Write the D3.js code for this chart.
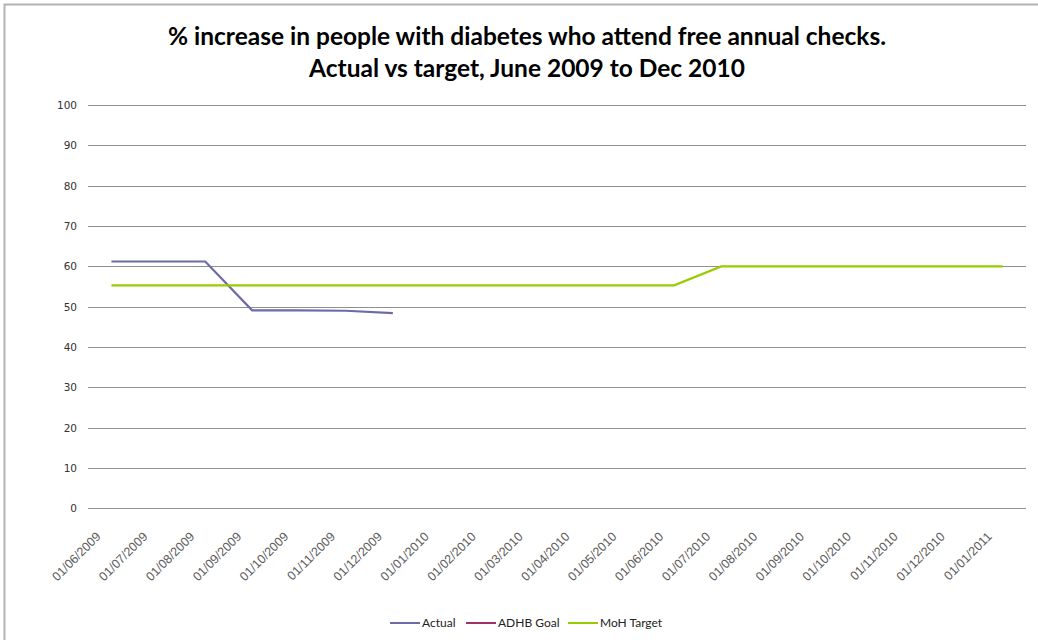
<!DOCTYPE html>
<html>
<head>
<meta charset="utf-8">
<script src="https://cdn.jsdelivr.net/npm/d3@7"></script>
<style>
  body { margin: 0; background: #fff; }
  svg { display: block; }
</style>
</head>
<body>
<svg id="chart" width="1038" height="640"></svg>
<script>
// chart data
var months = ["01/06/2009", "01/07/2009", "01/08/2009", "01/09/2009", "01/10/2009",
    "01/11/2009", "01/12/2009", "01/01/2010", "01/02/2010", "01/03/2010",
    "01/04/2010", "01/05/2010", "01/06/2010", "01/07/2010", "01/08/2010",
    "01/09/2010", "01/10/2010", "01/11/2010", "01/12/2010", "01/01/2011"];
var actual = [61.2, 61.2, 61.2, 49.1, 49.1, 49.0, 48.4];
var adhbGoal = [];
var mohTarget = [55.3, 55.3, 55.3, 55.3, 55.3, 55.3, 55.3, 55.3, 55.3, 55.3,
    55.3, 55.3, 55.3, 60, 60, 60, 60, 60, 60, 60];
var yTicks = [0, 10, 20, 30, 40, 50, 60, 70, 80, 90, 100];
var titleLines = ["% increase in people with diabetes who attend free annual checks.",
    "Actual vs target, June 2009 to Dec 2010"];
var seriesNames = ["Actual", "ADHB Goal", "MoH Target"];
var seriesColors = ["#6b6ba8", "#a03068", "#99cc00"];

var svg = d3.select("svg#chart");

// outer chart border
svg.append("rect")
    .attr("x", 4.5).attr("y", 4.5)
    .attr("width", 1040).attr("height", 640)
    .attr("fill", "none")
    .attr("stroke", "#b3b3b3")
    .attr("stroke-width", 2);

var margin = {top: 105, right: 12, bottom: 132, left: 88};
var plotW = 1026 - margin.left;
var plotH = 508.4 - margin.top;

var x = d3.scaleBand().domain(months).range([margin.left, margin.left + plotW]);
var y = d3.scaleLinear().domain([0, 100]).range([margin.top + plotH, margin.top]);

// y gridlines + labels
var yAxis = d3.axisLeft(y)
    .tickValues(yTicks)
    .tickSize(-plotW)
    .tickPadding(11);

var gy = svg.append("g")
    .attr("transform", "translate(" + margin.left + ",0)")
    .call(yAxis);
gy.select(".domain").remove();
gy.selectAll(".tick line")
    .attr("stroke", "#8f8f8f")
    .attr("shape-rendering", "crispEdges");
gy.selectAll(".tick text")
    .attr("fill", "#333")
    .style("font-family", "DejaVu Sans")
    .style("font-size", "10.5px");

// x labels, rotated like excel
var xAxis = d3.axisBottom(x).tickSize(0).tickPadding(0);
var gx = svg.append("g")
    .attr("transform", "translate(0," + (margin.top + plotH) + ")")
    .call(xAxis);
gx.select(".domain").remove();
gx.selectAll(".tick text")
    .attr("fill", "#5a5a5a")
    .style("font-family", "Liberation Sans")
    .style("font-size", "12.5px")
    .attr("text-anchor", "end")
    .attr("y", 0).attr("dy", 0)
    .attr("transform", "translate(-10,29) rotate(-45)");

var line = d3.line()
    .x(function(d, i) { return x(months[i]) + x.bandwidth() / 2; })
    .y(function(d) { return y(d); });

var allSeries = [actual, adhbGoal, mohTarget];
allSeries.forEach(function(s, i) {
    if (s.length == 0) return;
    svg.append("path")
        .datum(s)
        .attr("d", line)
        .attr("fill", "none")
        .attr("stroke", seriesColors[i])
        .attr("stroke-width", 2.2);
});

// title
svg.selectAll(".title")
    .data(titleLines)
    .enter().append("text")
    .attr("class", "title")
    .attr("x", 527)
    .attr("y", function(d, i) { return 45 + i * 32; })
    .attr("text-anchor", "middle")
    .style("font-family", "Lato")
    .style("font-weight", "bold")
    .style("font-size", "24.5px")
    .attr("fill", "#000")
    .text(function(d) { return d; });

// legend
var legendX = [390, 466, 568];
var legend = svg.selectAll(".legend")
    .data(seriesNames)
    .enter().append("g")
    .attr("class", "legend")
    .attr("transform", function(d, i) { return "translate(" + legendX[i] + ",623)"; });
legend.append("line")
    .attr("x1", 0).attr("x2", 30)
    .attr("stroke", function(d, i) { return seriesColors[i]; })
    .attr("stroke-width", 2);
legend.append("text")
    .attr("x", 32).attr("dy", "0.35em")
    .style("font-family", "Lato")
    .style("font-size", "12px")
    .attr("fill", "#222")
    .text(function(d) { return d; });
</script>
</body>
</html>
